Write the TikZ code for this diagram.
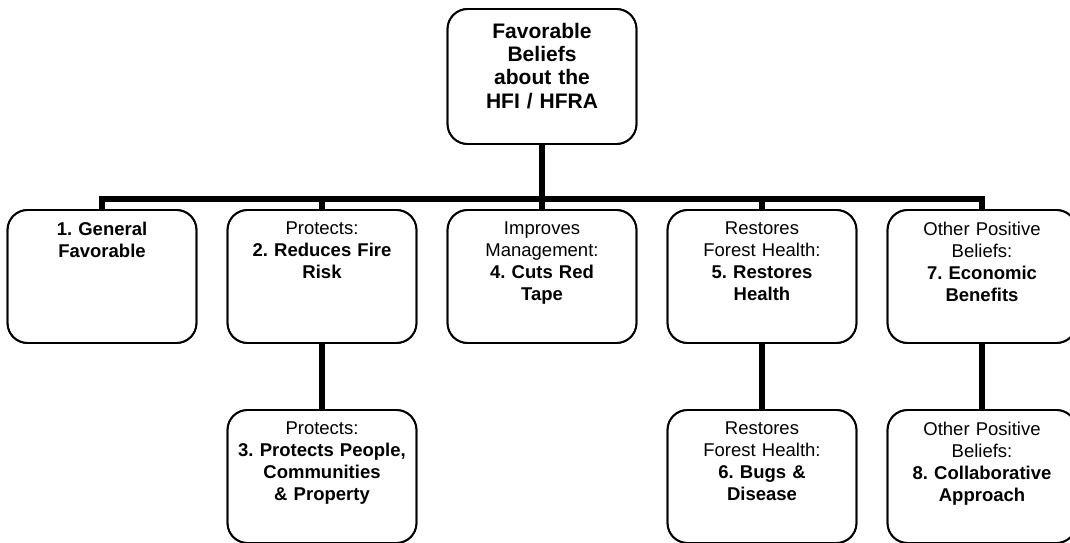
\documentclass[tikz,border=0pt]{standalone}
\usepackage{fontspec}
\setmainfont{Liberation Sans}
\usetikzlibrary{positioning}
\frenchspacing

\begin{document}
\begin{tikzpicture}[
      x=1pt, y=1pt,
      node distance=66pt and 31pt,
      belief/.style={rectangle, draw, line width=1.8pt, rounded corners=20pt, fill=white,
                     minimum width=189pt, minimum height=133pt, outer sep=0pt, inner sep=0pt},
      label text/.style={inner sep=0pt, outer sep=0pt, text width=186pt, align=center,
                         font=\fontsize{18.5}{22}\selectfont},
      link/.style={line width=5.5pt}
    ]
    \useasboundingbox (0,0) rectangle (1070,542);
    \clip (0,0) rectangle (1070,542);

    % top of the tree
    \node[belief, minimum height=135pt] (root) at (542,465.5) {};

    % first row
    \node[belief, below=of root] (b4) {};
    \node[belief, left=of b4] (b2) {};
    \node[belief, left=of b2] (b1) {};
    \node[belief, right=of b4] (b5) {};
    \node[belief, right=of b5] (b7) {};

    % second row
    \node[belief, below=67pt of b2] (b3) {};
    \node[belief, below=67pt of b5] (b6) {};
    \node[belief, below=67pt of b7] (b8) {};

    % connectors
    \draw[link] (root.south) -- ++(0,-55) coordinate (hub);
    \foreach \b in {b1,b2,b4,b5,b7}
      \draw[link] (hub) -| (\b.north);
    \draw[link] (b2.south) -- (b3.north);
    \draw[link] (b5.south) -- (b6.north);
    \draw[link] (b7.south) -- (b8.north);

    % redraw boxes over the line ends
    \foreach \b in {root,b1,b2,b3,b4,b5,b6,b7,b8}
      \draw[line width=1.8pt, rounded corners=20pt] (\b.south west) rectangle (\b.north east);

    % texts
    \node[label text, font=\fontsize{21}{23.3}\selectfont\bfseries, below=14pt of root.north] (troot)
      {Favorable\\Beliefs\\about the\\HFI / HFRA};
    \node[label text, below=12pt of b1.north] (t1) {\bfseries 1. General\\Favorable};
    \node[label text, below=12pt of b2.north] (t2) {Protects:\\\bfseries 2. Reduces Fire\\Risk};
    \node[label text, below=12pt of b4.north] (t4) {Improves\\Management:\\\bfseries 4. Cuts Red\\Tape};
    \node[label text, below=12pt of b5.north] (t5) {Restores\\Forest Health:\\\bfseries 5. Restores\\Health};
    \node[label text, below=12pt of b7.north] (t7) {Other Positive\\Beliefs:\\\bfseries 7. Economic\\Benefits};
    \node[label text, below=12pt of b3.north] (t3) {Protects:\\\bfseries 3. Protects People,\\Communities\\\& Property};
    \node[label text, below=12pt of b6.north] (t6) {Restores\\Forest Health:\\\bfseries 6. Bugs \&\\Disease};
    \node[label text, below=12pt of b8.north] (t8) {Other Positive\\Beliefs:\\\bfseries 8. Collaborative\\Approach};
  \end{tikzpicture}
\end{document}
